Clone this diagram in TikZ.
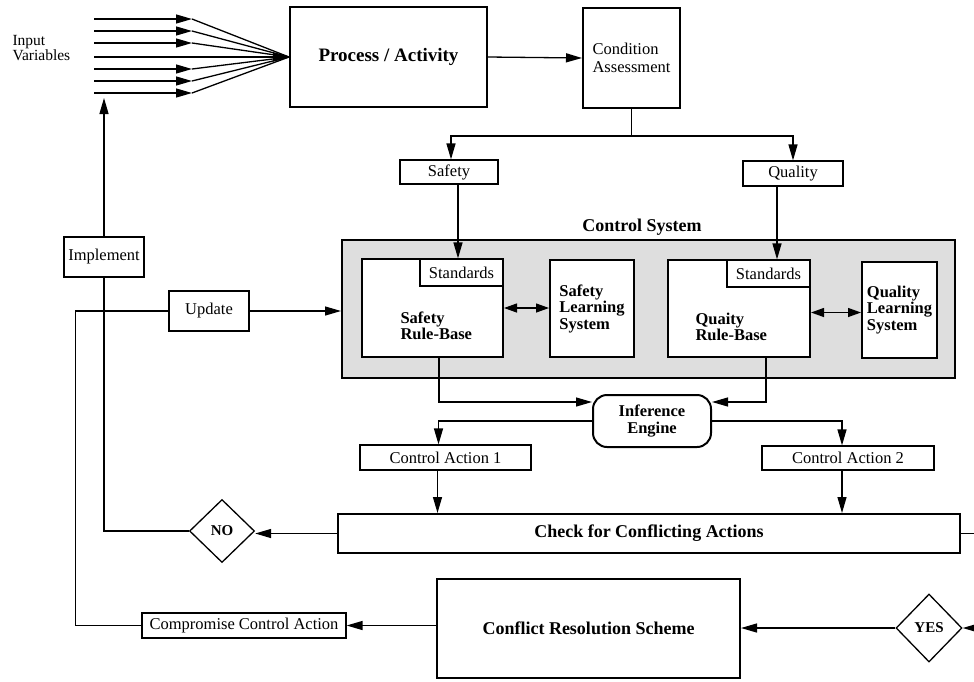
\documentclass[tikz,border=0pt]{standalone}
\usepackage{fontspec}
\setmainfont{Liberation Serif}
\usetikzlibrary{arrows.meta,shapes.geometric}
\begin{document}
\begin{tikzpicture}[x=1pt,y=-1pt,
  thickbox/.style={draw, line width=2pt, fill=white, inner sep=0pt},
  thinbox/.style={draw, line width=1.2pt, fill=white, inner sep=0pt},
  conn/.style={line width=1.3pt},
  arr/.style={conn, -{Triangle[length=16pt,width=9pt]}},
  dbl/.style={conn, {Triangle[length=13pt,width=9pt]}-{Triangle[length=13pt,width=9pt]}},
  reg/.style={font=\fontsize{16.5}{18}\selectfont},
  bld/.style={font=\bfseries\fontsize{16.5}{16.5}\selectfont},
  big/.style={font=\bfseries\fontsize{19}{20}\selectfont},
  dia/.style={draw, diamond, line width=1.3pt, fill=white, inner sep=0pt, font=\bfseries\fontsize{15}{15}\selectfont}
]
\useasboundingbox (0,0) rectangle (974,681);

% control system area
\node[draw, line width=2pt, fill=black!13, minimum width=613pt, minimum height=138pt, inner sep=0pt] (ctrl) at (648.5,309) {};
\node[font=\bfseries\fontsize{18}{18}\selectfont] (ctrlt) at (642,227) {Control System};

% top row
\node[font=\fontsize{15.5}{14}\selectfont, align=left, anchor=west] (inp) at (9,48.5) {Input\\Variables};
\node[thickbox, big, minimum width=197pt, minimum height=100pt] (proc) at (388.5,57) {Process / Activity};
\node[thickbox, reg, align=left, minimum width=97pt, minimum height=100pt] (cond) at (631.5,58) {Condition\\Assessment};

\node[thinbox, reg, minimum width=98pt, minimum height=24pt] (safety) at (449,172) {Safety};
\node[thinbox, reg, minimum width=100pt, minimum height=25pt] (quality) at (793,173.5) {Quality};

% rule bases and learning systems
\node[thickbox, minimum width=141pt, minimum height=98pt] (srb) at (432.5,308) {};
\node[thinbox, reg, minimum width=83pt, minimum height=27pt] (sstd) at (461.5,272.5) {Standards};
\node[bld, align=left, anchor=west] (srbt) at (397,326) {Safety\\Rule-Base};
\node[thickbox, bld, align=left, minimum width=84pt, minimum height=97pt] (sls) at (592,308.5) {Safety\\Learning\\System};

\node[thickbox, minimum width=142pt, minimum height=97pt] (qrb) at (739,308.5) {};
\node[thinbox, reg, minimum width=83pt, minimum height=27pt] (qstd) at (768.5,273.5) {Standards};
\node[bld, align=left, anchor=west] (qrbt) at (692,327) {Quaity\\Rule-Base};
\node[thickbox, bld, align=left, minimum width=75pt, minimum height=96pt] (qls) at (899.5,310) {Quality\\Learning\\System};

% left side
\node[thinbox, reg, minimum width=80pt, minimum height=40pt] (impl) at (104,257) {Implement};
\node[thinbox, reg, minimum width=80pt, minimum height=40pt] (upd) at (209,311) {Update};

% inference and actions
\node[draw, line width=2pt, fill=white, rounded corners=14pt, bld, align=center, inner sep=0pt, minimum width=118pt, minimum height=52pt] (infer) at (652,421) {Inference\\Engine};
\node[thinbox, reg, minimum width=171pt, minimum height=25pt] (ca1) at (445.5,457.5) {Control Action 1};
\node[thinbox, reg, minimum width=172pt, minimum height=24pt] (ca2) at (848,458) {Control Action 2};

\node[thickbox, font=\bfseries\fontsize{18}{18}\selectfont, minimum width=622pt, minimum height=39pt] (check) at (649,533.5) {Check for Conflicting Actions};
\node[dia, minimum width=65pt, minimum height=63pt] (no) at (222,531) {NO};
\node[dia, minimum width=66pt, minimum height=68pt] (yes) at (929,628) {YES};
\node[thickbox, font=\bfseries\fontsize{18}{18}\selectfont, minimum width=303pt, minimum height=99pt] (conf) at (588.5,628.5) {Conflict Resolution Scheme};
\node[thinbox, reg, minimum width=204pt, minimum height=25pt] (comp) at (244,625.5) {Compromise Control Action};

% input variable arrows
\foreach \i/\yy in {1/19,2/31,3/43,5/69,6/81,7/93} {
  \coordinate (in\i) at (94,\yy);
  \coordinate (tip\i) at (192,\yy);
  \draw[arr] (in\i) -- (tip\i);
  \draw[conn] (tip\i) -- (proc.west);
}
\coordinate (in4) at (94,57);
\draw[arr] (in4) -- (proc.west);

\coordinate (implup) at (104,98);
\draw[arr] (impl.north) -- (implup);

\draw[arr] (proc.east) -- (cond.west);
\coordinate (split) at ([yshift=-27pt]cond.south);
\draw[conn] (cond.south) -- (split);
\draw[arr] (split) -| ([xshift=2pt]safety.north);
\draw[arr] (split) -| (quality.north);

\draw[arr] ([xshift=9pt]safety.south) -- ([xshift=9pt]safety.south |- sstd.north);
\draw[arr] ([xshift=-16pt]quality.south) -- ([xshift=-16pt]quality.south |- qstd.north);

\draw[dbl] (srb.east) -- (sls.west |- srb.east);
\draw[dbl] ([yshift=-4pt]qrb.east) -- ([yshift=-4pt]qrb.east -| qls.west);

\draw[arr] (upd.east) -- (upd.east -| ctrl.west);
\draw[conn] (comp.west) -- ++(-66,0) |- (upd.west);

\draw[arr] ([xshift=6.5pt]srb.south) |- ([yshift=19pt]infer.west);
\draw[arr] ([xshift=27pt]qrb.south) |- ([yshift=19pt]infer.east);

\draw[arr] (infer.west) -| ([xshift=-7pt]ca1.north);
\draw[arr] (infer.east) -| ([xshift=-6pt]ca2.north);

\draw[arr] ([xshift=-8pt]ca1.south) -- ([xshift=-8pt]ca1.south |- check.north);
\draw[arr] ([xshift=-6pt]ca2.south) -- ([xshift=-6pt]ca2.south |- check.north);

\draw[arr] (check.west) -- (no.east |- check.west);
\draw[conn] (no.west) -| (impl.south);

\coordinate (checkout) at (974,533.5);
\draw[conn] (check.east) -- (checkout);
\coordinate (yesin) at (974,628);
\draw[arr] (yesin) -- (yes.east);
\draw[arr] (yes.west) -- (yes.west -| conf.east);
\draw[arr] (conf.west |- comp.east) -- (comp.east);
\end{tikzpicture}
\end{document}
